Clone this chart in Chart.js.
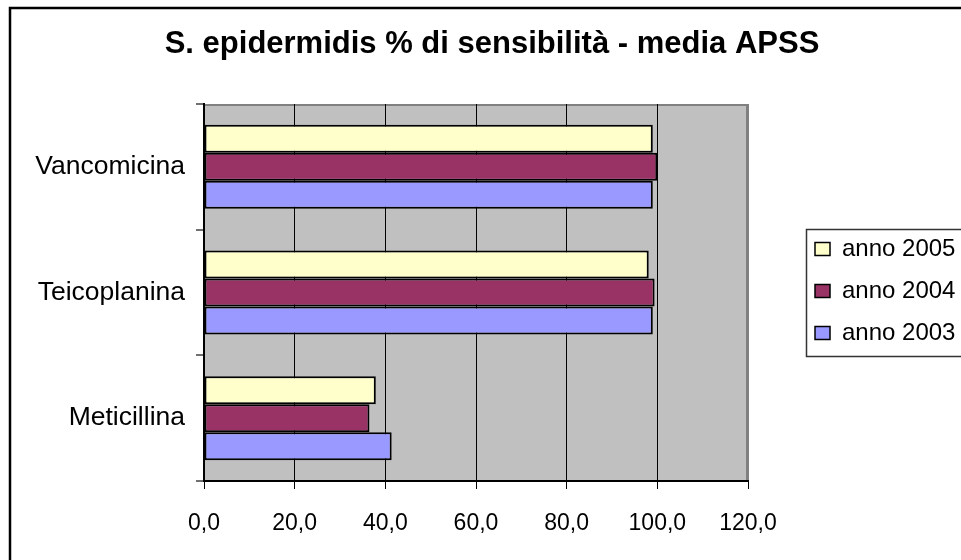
<!DOCTYPE html>
<html>
<head>
<meta charset="utf-8">
<title>S. epidermidis % di sensibilità - media APSS</title>
<script src="https://cdn.jsdelivr.net/npm/chart.js@4.4.1/dist/chart.umd.min.js"></script>
<style>
  html, body { margin: 0; padding: 0; background: #ffffff; }
  canvas { display: block; }
</style>
</head>
<body>
<canvas id="chart" width="961" height="560"></canvas>
<script>
// Sensitivity data (% of susceptible isolates), one array per year
const categories = ['Vancomicina', 'Teicoplanina', 'Meticillina'];
const seriesNames = ['anno 2005', 'anno 2004', 'anno 2003'];
const values2005 = [99.0, 98.1, 37.9];
const values2004 = [100.0, 99.4, 36.5];
const values2003 = [99.0, 99.0, 41.4];
const xTickLabels = ['0,0', '20,0', '40,0', '60,0', '80,0', '100,0', '120,0'];
const chartTitle = 'S. epidermidis % di sensibilità - media APSS';

const seriesColors = ['#FFFFCC', '#993366', '#9999FF'];
const FONT = "'Liberation Sans', Arial, Helvetica, sans-serif";

// Fixed layout of the legend panel on the right
const LEGEND_SLOT = 213;
const LEGEND_FRAME = { x: 806, y: 229, w: 200, h: 127 };

const decorations = {
  id: 'decorations',
  beforeUpdate(chart) {
    const lg = chart.legend;
    if (lg && !lg._slotPatched) {
      const fit = lg.fit;
      lg.fit = function () { fit.call(this); this.width = LEGEND_SLOT; };
      lg._slotPatched = true;
    }
  },
  afterLayout(chart) {
    const lg = chart.legend;
    if (!lg) return;
    lg.left = LEGEND_FRAME.x - 9;
    lg.top = 219;
    lg.width = 200;
    lg.right = lg.left + lg.width;
    lg.bottom = chart.height;
    lg.height = lg.bottom - lg.top;
  },
  beforeDraw(chart) {
    const { ctx, chartArea: a } = chart;
    ctx.save();
    ctx.fillStyle = '#ffffff';
    ctx.fillRect(0, 0, chart.width, chart.height);
    // outer frame of the chart
    ctx.strokeStyle = '#000000';
    ctx.lineWidth = 2.5;
    ctx.strokeRect(10, 8, chart.width + 20, chart.height + 20);
    // plot area
    ctx.fillStyle = '#C0C0C0';
    ctx.fillRect(a.left, a.top, a.right - a.left, a.bottom - a.top);
    ctx.strokeStyle = '#808080';
    ctx.lineWidth = 2;
    ctx.beginPath();
    ctx.moveTo(a.left, a.top + 1);
    ctx.lineTo(a.right - 1, a.top + 1);
    ctx.lineTo(a.right - 1, a.bottom);
    ctx.stroke();
    ctx.restore();
  },
  afterDraw(chart) {
    const { ctx } = chart;
    ctx.save();
    ctx.strokeStyle = '#333333';
    ctx.lineWidth = 1.5;
    ctx.strokeRect(LEGEND_FRAME.x + 0.5, LEGEND_FRAME.y + 0.5, LEGEND_FRAME.w, LEGEND_FRAME.h);
    ctx.restore();
  }
};

const yearValues = [values2005, values2004, values2003];

new Chart(document.getElementById('chart'), {
  type: 'bar',
  data: {
    labels: categories,
    datasets: seriesNames.map((name, i) => ({
      label: name,
      data: yearValues[i],
      backgroundColor: seriesColors[i],
      borderColor: '#000000',
      borderWidth: 2,
      borderSkipped: false,
      categoryPercentage: 0.668,
      barPercentage: 1.0
    }))
  },
  options: {
    indexAxis: 'y',
    responsive: false,
    animation: false,
    devicePixelRatio: 1,
    layout: { padding: { left: 23, top: 0, right: 0, bottom: 0 } },
    plugins: {
      title: {
        display: true,
        text: chartTitle,
        color: '#000000',
        font: { family: FONT, size: 31, weight: 'bold' },
        padding: { top: 26, bottom: 40.8 }
      },
      legend: {
        display: true,
        position: 'right',
        align: 'start',
        fullSize: false,
        labels: {
          color: '#000000',
          font: { family: FONT, size: 24 },
          boxWidth: 15,
          boxHeight: 13,
          padding: 18,
          generateLabels(chart) {
            return Chart.defaults.plugins.legend.labels.generateLabels(chart).map(item => ({
              ...item, lineWidth: 1.5, strokeStyle: '#000000'
            }));
          }
        }
      },
      tooltip: { enabled: false }
    },
    scales: {
      y: {
        type: 'category',
        offset: true,
        afterFit(scale) { scale.width = 181; },
        grid: {
          offset: true,
          drawOnChartArea: false,
          drawTicks: true,
          tickLength: 8,
          color: '#707070',
          lineWidth: 2
        },
        border: { display: true, color: '#000000', width: 2 },
        ticks: { color: '#000000', font: { family: FONT, size: 26.5 }, padding: 11 }
      },
      x: {
        type: 'linear',
        min: 0,
        max: 120,
        afterFit(scale) { scale.height = 79; },
        grid: {
          color: ctx => (ctx.tick && ctx.tick.value === 120 ? '#808080' : '#000000'),
          lineWidth: 1,
          tickLength: 8,
          tickColor: '#000000',
          drawTicks: true
        },
        border: { display: true, color: '#000000', width: 2 },
        ticks: {
          stepSize: 20,
          color: '#000000',
          font: { family: FONT, size: 23 },
          padding: 21,
          maxRotation: 0,
          callback: (value, index) => xTickLabels[index]
        }
      }
    }
  },
  plugins: [decorations]
});
</script>
</body>
</html>
